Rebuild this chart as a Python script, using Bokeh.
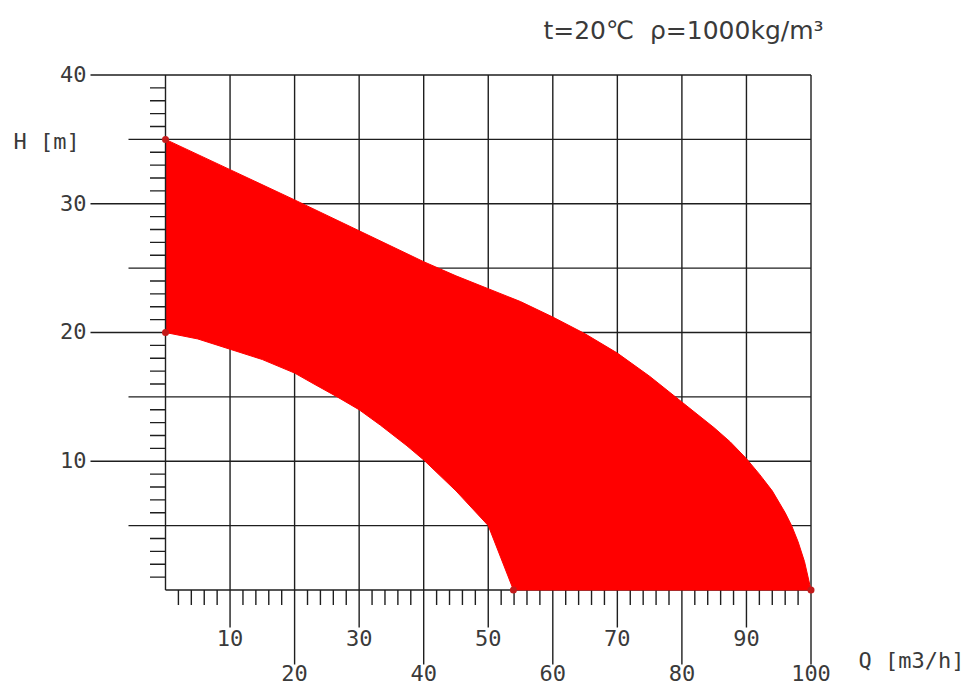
from bokeh.plotting import figure
from bokeh.models import Range1d
from bokeh.core.properties import value
from bokeh.embed import file_html
from bokeh.resources import INLINE

# ---- data ----
upper_q = [0, 10, 20, 30, 40, 45, 50, 55, 60, 65, 70, 75, 80, 85, 87.5, 90, 92, 94, 96, 97, 98, 99, 100]
upper_h = [35, 32.65, 30.3, 27.9, 25.5, 24.4, 23.4, 22.4, 21.2, 19.9, 18.4, 16.6, 14.6, 12.6, 11.5, 10.2, 9.0, 7.7, 6.0, 5.0, 3.75, 2.2, 0]
lower_q = [0, 5, 10, 15, 20, 23, 26.6, 30, 33.3, 37.4, 40, 45, 50, 53.9]
lower_h = [20, 19.5, 18.7, 17.9, 16.85, 16.0, 15.0, 14.0, 12.8, 11.2, 10.1, 7.7, 5.0, 0]
y_labels = [10, 20, 30, 40]
y_half = [5, 15, 25, 35]
x_odd = [10, 30, 50, 70, 90]
x_even = [20, 40, 60, 80, 100]
title_text = "t=20\u2103\u00a0\u00a0\u03c1=1000kg/m\u00b3"
y_title = "H\u00a0[m]"
x_title = "Q\u00a0[m3/h]"

# ---- layout ----
SX, SY = 6.455, 12.875
W, H = 975, 684
x0 = -165 / SX
x1 = x0 + W / SX
y1 = 589.5 / SY
y0 = y1 - H / SY

def qx(px):
    return (px - 165) / SX

def hy(py):
    return (589.5 - py) / SY

p = figure(width=W, height=H, x_range=Range1d(x0, x1), y_range=Range1d(y0, y1),
           output_backend="svg", toolbar_location=None, min_border=0, title=None)
p.axis.visible = False
p.grid.visible = False
p.outline_line_color = None
p.background_fill_color = "white"
p.border_fill_color = "white"

LC = "#1e1e1e"
LW = 1.4

# horizontal grid lines
hl = y_labels + y_half
p.segment(x0=[qx(90)] * 4 + [qx(128)] * 4, y0=hl, x1=[100] * 8, y1=hl, line_color=LC, line_width=LW)
# bottom axis
p.segment(x0=[0], y0=[0], x1=[100], y1=[0], line_color=LC, line_width=LW)
# vertical grid lines
p.segment(x0=x_odd, y0=[hy(627)] * 5, x1=x_odd, y1=[40] * 5, line_color=LC, line_width=LW)
p.segment(x0=x_even, y0=[hy(664)] * 5, x1=x_even, y1=[40] * 5, line_color=LC, line_width=LW)
# small ticks
lt = [v for v in range(1, 40) if v % 5 != 0]
p.segment(x0=[qx(149.5)] * len(lt), y0=lt, x1=[0] * len(lt), y1=lt, line_color=LC, line_width=LW)
bt = [v for v in range(2, 100, 2) if v % 10 != 0]
p.segment(x0=bt, y0=[0] * len(bt), x1=bt, y1=[hy(604.5)] * len(bt), line_color=LC, line_width=LW)

# red operating area
xs = upper_q + lower_q[::-1]
ys = upper_h + lower_h[::-1]
p.patch(xs, ys, fill_color="#ff0000", line_color="#ff0000", line_width=1)

# left axis on top
p.segment(x0=[0], y0=[0], x1=[0], y1=[40], line_color=LC, line_width=LW)

# corner markers
p.scatter([upper_q[0], lower_q[0], lower_q[-1], upper_q[-1]],
          [upper_h[0], lower_h[0], lower_h[-1], upper_h[-1]],
          size=7, fill_color="#c41a1a", line_color=None)

FONT = value("DejaVu Sans Mono")
TC = "#3a3a3a"
p.text(x=[qx(86)] * 4, y=[v + 0.08 for v in y_labels], text=[str(v) for v in y_labels],
       text_font=FONT, text_font_size="22px", text_align="right", text_baseline="middle", text_color=TC)
p.text(x=x_odd, y=[hy(637.5)] * 5, text=[str(v) for v in x_odd],
       text_font=FONT, text_font_size="22px", text_align="center", text_baseline="middle", text_color=TC)
p.text(x=x_even, y=[hy(672)] * 5, text=[str(v) for v in x_even],
       text_font=FONT, text_font_size="22px", text_align="center", text_baseline="middle", text_color=TC)
p.text(x=[qx(13)], y=[hy(141)], text=[y_title], text_font=FONT, text_font_size="22px",
       text_align="left", text_baseline="middle", text_color=TC)
p.text(x=[qx(858)], y=[hy(660)], text=[x_title], text_font=FONT, text_font_size="22px",
       text_align="left", text_baseline="middle", text_color=TC)
p.text(x=[qx(683)], y=[hy(30)], text=[title_text], text_font=value("DejaVu Sans"), text_font_size="25px",
       text_align="center", text_baseline="middle", text_color=TC)

open("out.html", "w").write(file_html(p, INLINE))
